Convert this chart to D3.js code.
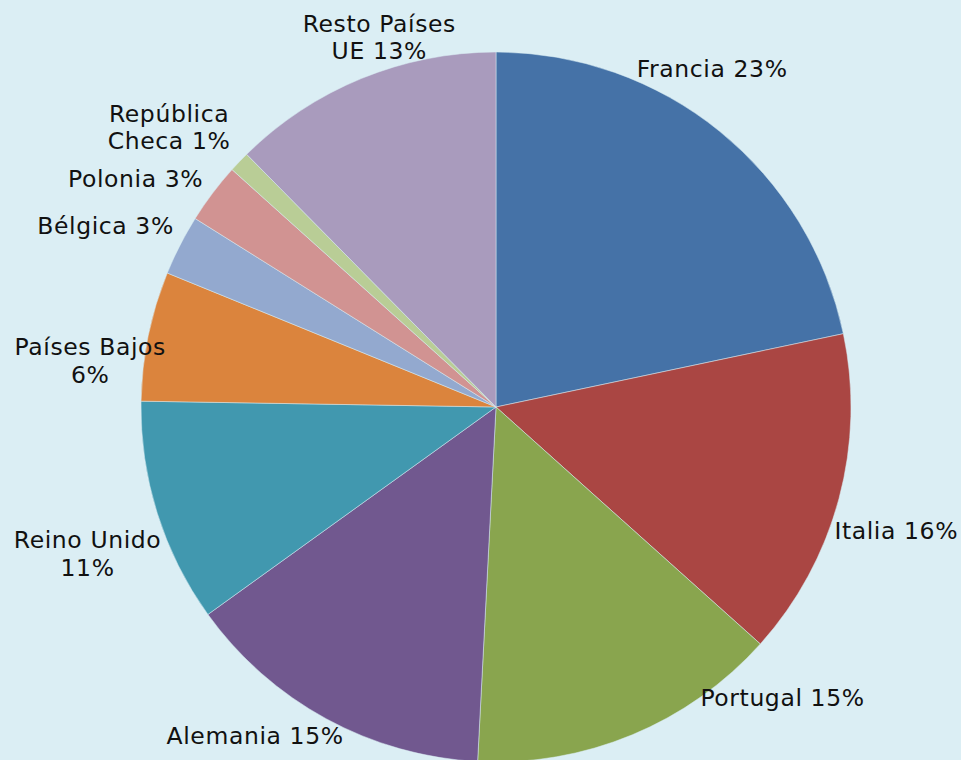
<!DOCTYPE html>
<html>
<head>
<meta charset="utf-8">
<script src="https://cdn.jsdelivr.net/npm/d3@7"></script>
<style>
  html, body { margin: 0; padding: 0; background: #dbeef4; }
  svg { display: block; }
  .lbl { font-family: "DejaVu Sans", Verdana, sans-serif; font-size: 23.5px; letter-spacing: 0.6px; fill: #111; }
</style>
</head>
<body>
<svg width="961" height="760"></svg>
<script>
// Countries, clockwise from 12 o'clock
const countries = ["Francia", "Italia", "Portugal", "Alemania", "Reino Unido",
  "Países Bajos", "Bélgica", "Polonia", "República Checa", "Resto Países UE"];

// Share of each slice
const shares = [21.7, 14.95, 14.2, 14.25, 10.2, 5.9, 2.75, 2.75, 0.95, 12.4];

// Label text as printed on the chart (lines)
const labelLines = [
  ["Francia 23%"], ["Italia 16%"], ["Portugal 15%"], ["Alemania 15%"],
  ["Reino Unido", "11%"], ["Países Bajos", "6%"], ["Bélgica 3%"],
  ["Polonia 3%"], ["República", "Checa 1%"], ["Resto Países", "UE 13%"]
];

const colors = ["#4572a7", "#aa4643", "#89a54e", "#71588f", "#4198af",
  "#db843d", "#93a9cf", "#d19392", "#b9cd96", "#a99bbd"];

const svg = d3.select("svg"),
  cx = 496, cy = 407, radius = 355;

const g = svg.append("g").attr("transform", `translate(${cx},${cy})`);

const pie = d3.pie().sort(null).value((d) => d.v);
const arcs = pie(countries.map((c, i) => ({ c, v: shares[i], i })));

const arc = d3.arc().innerRadius(0).outerRadius(radius);
const labelArc = d3.arc().innerRadius(405).outerRadius(405);

// Excel moves some outside labels around; small nudges from the centroid
const nudge = [[-39, -23], [9, 19], [131, -83], [-47, -27], [-22, 26],
  [-9, 35], [-30, 4], [-37, 16], [-34, 0], [37, 5]];

g.selectAll("path")
  .data(arcs)
  .join("path")
  .attr("d", arc)
  .attr("fill", (d) => colors[d.data.i])
  .attr("stroke", "#dbeef4")
  .attr("stroke-width", 0.5);

const lineH = 27.5;
const lbl = g.selectAll("text.lbl")
  .data(arcs)
  .join("text")
  .attr("class", "lbl")
  .attr("text-anchor", "middle")
  .attr("transform", (d) => {
    const [x, y] = labelArc.centroid(d);
    const n = nudge[d.data.i];
    return `translate(${x + n[0]},${y + n[1]})`;
  });

lbl.selectAll("tspan")
  .data((d) => labelLines[d.data.i].map((t, k, a) => ({ t, k, n: a.length })))
  .join("tspan")
  .attr("x", 0)
  .attr("y", (d) => (d.k - (d.n - 1) / 2) * lineH + 8)
  .text((d) => d.t);
</script>
</body>
</html>
